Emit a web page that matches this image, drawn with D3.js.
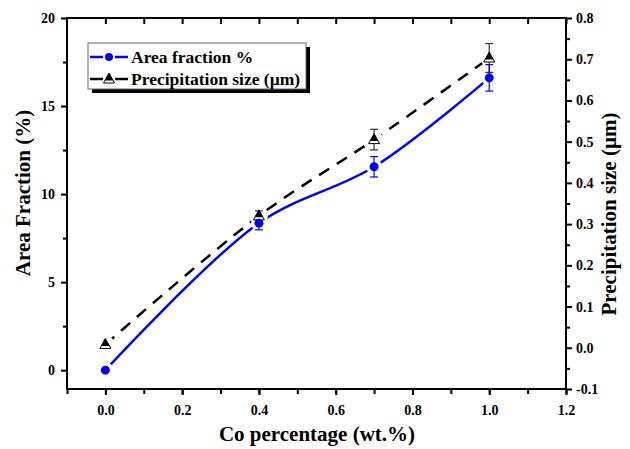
<!DOCTYPE html>
<html>
<head>
<meta charset="utf-8">
<script src="https://cdn.jsdelivr.net/npm/d3@7"></script>
<style>
  body { margin: 0; background: #fff; }
  text { font-family: "Liberation Serif", "Times New Roman", serif; font-weight: bold; }
</style>
</head>
<body>
<div id="chart"></div>
<script>
// data
var coPct = [0.0, 0.4, 0.7, 1.0];
var areaFraction = [0.0, 8.35, 11.55, 16.6];
var areaErr = [0, 0.38, 0.58, 0.75];
var precipSize = [0.008, 0.32, 0.505, 0.703];
var precipErr = [0, 0.012, 0.025, 0.035];

var xTicks = [0.0, 0.2, 0.4, 0.6, 0.8, 1.0, 1.2];
var leftTicks = [0, 5, 10, 15, 20];
var rightTicks = [-0.1, 0.0, 0.1, 0.2, 0.3, 0.4, 0.5, 0.6, 0.7, 0.8];

var width = 630, height = 449;
var pLeft = 67, pRight = 566, pTop = 18, pBottom = 389;

var svg = d3.select("#chart").append("svg")
    .attr("width", width)
    .attr("height", height);

var x = d3.scaleLinear().domain([-0.1, 1.2]).range([pLeft, pRight]);
var yL = d3.scaleLinear().domain([-1.07, 20]).range([pBottom, pTop]);
var yR = d3.scaleLinear().domain([-0.1, 0.8]).range([pBottom, pTop]);

// axes
function styleAxis(g) {
  g.select(".domain").remove();
  g.selectAll(".tick line").attr("stroke", "#000").attr("stroke-width", 2);
  g.selectAll(".tick text").attr("font-size", 14).attr("fill", "#000");
}

var minorX = d3.range(-0.1, 1.21, 0.1).map(function(d) { return +d.toFixed(2); });

svg.append("g").attr("transform", "translate(0," + pBottom + ")")
  .call(d3.axisBottom(x).tickValues(minorX).tickSize(5).tickFormat(""))
  .call(styleAxis);
svg.append("g").attr("transform", "translate(0," + pBottom + ")")
  .call(d3.axisBottom(x).tickValues(xTicks).tickSize(6).tickPadding(10)
        .tickFormat(function(d) { return d.toFixed(1); }))
  .call(styleAxis);

// top axis mirrors, ticks inward
svg.append("g").attr("transform", "translate(0," + pTop + ")")
  .call(d3.axisBottom(x).tickValues(minorX.slice(1)).tickSize(6).tickFormat(""))
  .call(styleAxis);

svg.append("g").attr("transform", "translate(" + pLeft + ",0)")
  .call(d3.axisLeft(yL).tickValues([2.5, 7.5, 12.5, 17.5]).tickSize(4).tickFormat(""))
  .call(styleAxis);
svg.append("g").attr("transform", "translate(" + pLeft + ",0)")
  .call(d3.axisLeft(yL).tickValues(leftTicks).tickSize(6).tickPadding(6).tickFormat(d3.format("d")))
  .call(styleAxis);

var minorR = d3.range(-0.05, 0.8, 0.1).map(function(d) { return +d.toFixed(2); });
svg.append("g").attr("transform", "translate(" + pRight + ",0)")
  .call(d3.axisRight(yR).tickValues(minorR).tickSize(4).tickFormat(""))
  .call(styleAxis);
svg.append("g").attr("transform", "translate(" + pRight + ",0)")
  .call(d3.axisRight(yR).tickValues(rightTicks).tickSize(6).tickPadding(4)
        .tickFormat(function(d) { return d.toFixed(1); }))
  .call(styleAxis);

// frame
svg.append("rect")
  .attr("x", pLeft).attr("y", pTop)
  .attr("width", pRight - pLeft).attr("height", pBottom - pTop)
  .attr("fill", "none").attr("stroke", "#000").attr("stroke-width", 2);

// axis titles
svg.append("text").attr("x", 317).attr("y", 441)
  .attr("text-anchor", "middle").attr("font-size", 21).text("Co percentage (wt.%)");
svg.append("text").attr("transform", "translate(30,193) rotate(-90)")
  .attr("text-anchor", "middle").attr("font-size", 21).text("Area Fraction (%)");
svg.append("text").attr("transform", "translate(616,214) rotate(-90)")
  .attr("text-anchor", "middle").attr("font-size", 21).text("Precipitation size (\u00b5m)");

// gaps in the lines around the symbols
var mask = svg.append("defs").append("mask").attr("id", "gapmask")
  .attr("maskUnits", "userSpaceOnUse")
  .attr("x", 0).attr("y", 0).attr("width", width).attr("height", height);
mask.append("rect").attr("width", width).attr("height", height).attr("fill", "#fff");
coPct.forEach(function(c, i) {
  mask.append("circle").attr("cx", x(c)).attr("cy", yL(areaFraction[i])).attr("r", 8).attr("fill", "#000");
  mask.append("circle").attr("cx", x(c)).attr("cy", yR(precipSize[i])).attr("r", 9).attr("fill", "#000");
});

var lineA = d3.line().curve(d3.curveCatmullRom.alpha(0.5))
  .x(function(d, i) { return x(coPct[i]); })
  .y(function(d) { return yL(d); });
var lineP = d3.line().curve(d3.curveCatmullRom.alpha(0.5))
  .x(function(d, i) { return x(coPct[i]); })
  .y(function(d) { return yR(d); });

svg.append("path").datum(precipSize)
  .attr("d", lineP).attr("fill", "none").attr("stroke", "#000")
  .attr("stroke-width", 2.5).attr("stroke-dasharray", "12,9")
  .attr("mask", "url(#gapmask)");
svg.append("path").datum(areaFraction)
  .attr("d", lineA).attr("fill", "none").attr("stroke", "#0000ff")
  .attr("stroke-width", 2.5)
  .attr("mask", "url(#gapmask)");

// error bars
function errBars(vals, errs, y, color) {
  var g = svg.append("g").attr("stroke", color).attr("stroke-width", 1.2);
  vals.forEach(function(v, i) {
    if (!errs[i]) return;
    var cx = x(coPct[i]), y1 = y(v + errs[i]), y2 = y(v - errs[i]);
    g.append("line").attr("x1", cx).attr("x2", cx).attr("y1", y1).attr("y2", y2);
    g.append("line").attr("x1", cx - 4).attr("x2", cx + 4).attr("y1", y1).attr("y2", y1);
    g.append("line").attr("x1", cx - 4).attr("x2", cx + 4).attr("y1", y2).attr("y2", y2);
  });
}
errBars(precipSize, precipErr, yR, "#333");
errBars(areaFraction, areaErr, yL, "#0000ff");

// symbols
function triangle(g, cx, cy) {
  g.append("path")
    .attr("d", "M" + cx + "," + (cy - 6) + "L" + (cx + 5.5) + "," + (cy + 4) + "L" + (cx - 5.5) + "," + (cy + 4) + "Z")
    .attr("fill", "#fff").attr("stroke", "#000").attr("stroke-width", 1);
  g.append("path")
    .attr("d", "M" + cx + "," + (cy - 6) + "L" + (cx + 4) + "," + (cy + 1.5) + "L" + (cx - 4) + "," + (cy + 1.5) + "Z")
    .attr("fill", "#000");
}

var symP = svg.append("g");
precipSize.forEach(function(v, i) { triangle(symP, x(coPct[i]), yR(v)); });

svg.append("g").selectAll("circle").data(areaFraction).enter().append("circle")
  .attr("cx", function(d, i) { return x(coPct[i]); })
  .attr("cy", function(d) { return yL(d); })
  .attr("r", 4.5).attr("fill", "#0000ff");

// legend with drop shadow
var lg = svg.append("g");
lg.append("rect").attr("x", 92).attr("y", 47).attr("width", 218).attr("height", 46).attr("fill", "#000");
lg.append("rect").attr("x", 88).attr("y", 43).attr("width", 218).attr("height", 46)
  .attr("fill", "#fff").attr("stroke", "#666").attr("stroke-width", 1);
[[90, 103], [115, 128]].forEach(function(s) {
  lg.append("line").attr("x1", s[0]).attr("x2", s[1]).attr("y1", 57).attr("y2", 57)
    .attr("stroke", "#0000ff").attr("stroke-width", 2.5);
  lg.append("line").attr("x1", s[0]).attr("x2", s[1]).attr("y1", 79).attr("y2", 79)
    .attr("stroke", "#000").attr("stroke-width", 2.5);
});
lg.append("circle").attr("cx", 109).attr("cy", 57).attr("r", 4).attr("fill", "#0000ff");
triangle(lg, 109, 79);
lg.append("text").attr("x", 131).attr("y", 63).attr("font-size", 17.5).text("Area fraction %");
lg.append("text").attr("x", 131).attr("y", 85).attr("font-size", 17.5).text("Precipitation size (\u00b5m)");
</script>
</body>
</html>
